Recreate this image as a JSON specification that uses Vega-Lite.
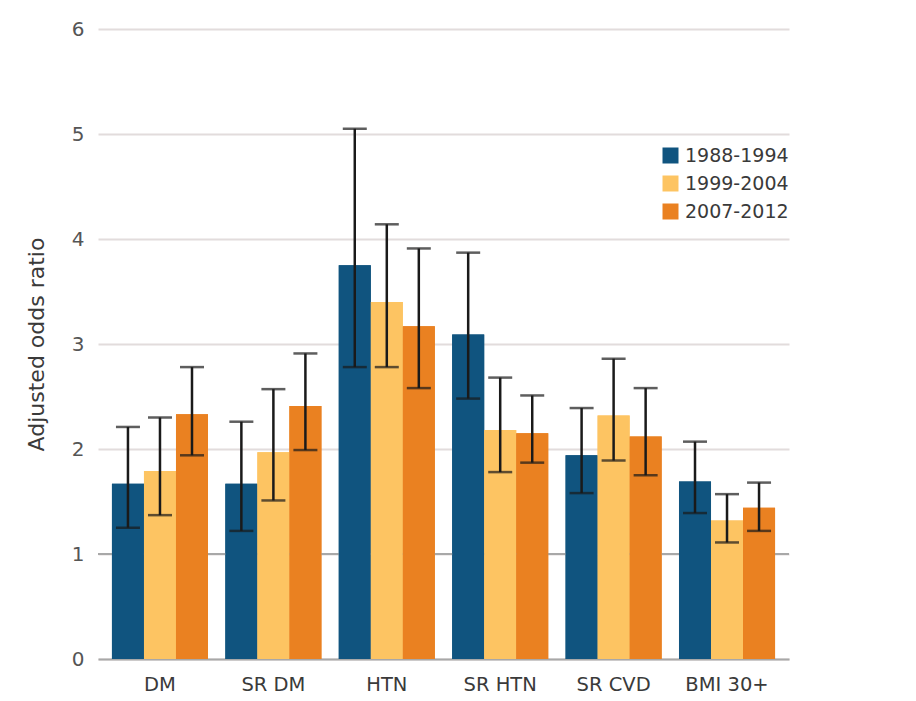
{
  "$schema": "https://vega.github.io/schema/vega-lite/v6.json",
  "autosize": "none",
  "width": 691,
  "height": 630,
  "padding": {"left": 98, "top": 29, "right": 127, "bottom": 42},
  "background": "white",
  "config": {
    "font": "DejaVu Sans",
    "view": {"stroke": null},
    "axisY": {
      "grid": true,
      "gridColor": "#e2dcdc",
      "gridWidth": 2,
      "ticks": false,
      "domain": false,
      "labelFontSize": 20,
      "labelColor": "#555555",
      "labelPadding": 14,
      "titleFontSize": 22,
      "titleFontWeight": "normal",
      "titleColor": "#3a3a3a",
      "titlePadding": 23,
      "format": "d"
    }
  },
  "data": {
    "values": [
      {"cat": "DM", "period": "1988-1994", "or": 1.67, "lo": 1.25, "hi": 2.21},
      {"cat": "DM", "period": "1999-2004", "or": 1.79, "lo": 1.37, "hi": 2.3},
      {"cat": "DM", "period": "2007-2012", "or": 2.33, "lo": 1.94, "hi": 2.78},
      {"cat": "SR DM", "period": "1988-1994", "or": 1.67, "lo": 1.22, "hi": 2.26},
      {"cat": "SR DM", "period": "1999-2004", "or": 1.97, "lo": 1.51, "hi": 2.57},
      {"cat": "SR DM", "period": "2007-2012", "or": 2.41, "lo": 1.99, "hi": 2.91},
      {"cat": "HTN", "period": "1988-1994", "or": 3.75, "lo": 2.78, "hi": 5.05},
      {"cat": "HTN", "period": "1999-2004", "or": 3.4, "lo": 2.78, "hi": 4.14},
      {"cat": "HTN", "period": "2007-2012", "or": 3.17, "lo": 2.58, "hi": 3.91},
      {"cat": "SR HTN", "period": "1988-1994", "or": 3.09, "lo": 2.48, "hi": 3.87},
      {"cat": "SR HTN", "period": "1999-2004", "or": 2.18, "lo": 1.78, "hi": 2.68},
      {"cat": "SR HTN", "period": "2007-2012", "or": 2.15, "lo": 1.87, "hi": 2.51},
      {"cat": "SR CVD", "period": "1988-1994", "or": 1.94, "lo": 1.58, "hi": 2.39},
      {"cat": "SR CVD", "period": "1999-2004", "or": 2.32, "lo": 1.89, "hi": 2.86},
      {"cat": "SR CVD", "period": "2007-2012", "or": 2.12, "lo": 1.75, "hi": 2.58},
      {"cat": "BMI 30+", "period": "1988-1994", "or": 1.69, "lo": 1.39, "hi": 2.07},
      {"cat": "BMI 30+", "period": "1999-2004", "or": 1.32, "lo": 1.11, "hi": 1.57},
      {"cat": "BMI 30+", "period": "2007-2012", "or": 1.44, "lo": 1.22, "hi": 1.68}
    ]
  },
  "encoding": {
    "x": {
      "field": "cat",
      "type": "nominal",
      "sort": null,
      "scale": {"paddingInner": 0.153, "paddingOuter": 0.123},
      "axis": {
        "title": null,
        "labelAngle": 0,
        "labelFontSize": 19.5,
        "labelColor": "#3a3a3a",
        "labelPadding": 16,
        "ticks": false,
        "grid": false,
        "domainColor": "#a8a8a8",
        "domainWidth": 2
      }
    },
    "xOffset": {"field": "period", "type": "nominal", "sort": null, "scale": {"paddingInner": 0, "paddingOuter": 0}}
  },
  "layer": [
    {
      "mark": {"type": "bar"},
      "encoding": {
        "y": {
          "field": "or",
          "type": "quantitative",
          "scale": {"domain": [0, 6], "nice": false},
          "axis": {"title": "Adjusted odds ratio", "values": [0, 1, 2, 3, 4, 5, 6]}
        },
        "color": {
          "field": "period",
          "type": "nominal",
          "scale": {"domain": ["1988-1994", "1999-2004", "2007-2012"], "range": ["#10547f", "#fdc462", "#ea8121"]},
          "legend": {
            "title": null,
            "orient": "none",
            "legendX": 563,
            "legendY": 117,
            "symbolType": "square",
            "symbolSize": 256,
            "symbolStrokeWidth": 0,
            "labelFontSize": 19,
            "labelColor": "#3a3a3a",
            "labelOffset": 5,
            "rowPadding": 8
          }
        }
      }
    },
    {
      "mark": {"type": "rule", "color": "#a8a8a8", "strokeWidth": 2},
      "encoding": {"y": {"datum": 1, "type": "quantitative"}, "x": null, "xOffset": null}
    },
    {
      "mark": {"type": "bar"},
      "encoding": {
        "y": {"field": "or", "type": "quantitative"},
        "color": {"field": "period", "type": "nominal"}
      }
    },
    {
      "mark": {"type": "rule", "color": "#1a1a1a", "strokeWidth": 2.5},
      "encoding": {
        "y": {"field": "lo", "type": "quantitative"},
        "y2": {"field": "hi"}
      }
    },
    {
      "mark": {"type": "tick", "color": "#1a1a1a", "thickness": 2.5, "size": 24, "orient": "horizontal"},
      "encoding": {"y": {"field": "lo", "type": "quantitative"}}
    },
    {
      "mark": {"type": "tick", "color": "#1a1a1a", "thickness": 2.5, "size": 24, "orient": "horizontal"},
      "encoding": {"y": {"field": "hi", "type": "quantitative"}}
    }
  ]
}
